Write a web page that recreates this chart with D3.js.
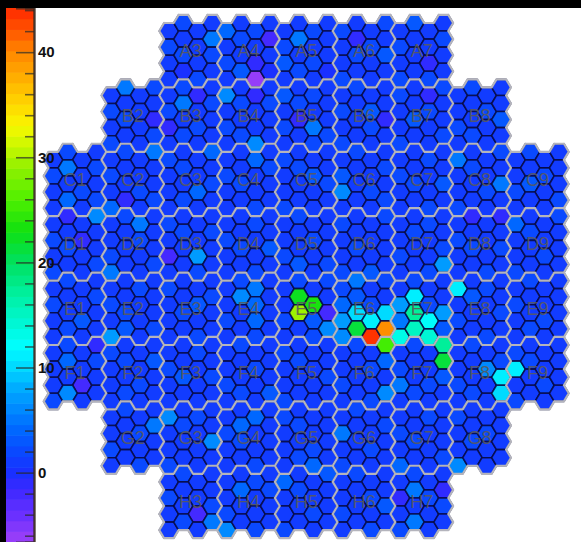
<!DOCTYPE html>
<html>
<head>
<meta charset="utf-8">
<script src="https://cdn.jsdelivr.net/npm/d3@7"></script>
<style>
  html, body { margin: 0; padding: 0; background: #fff; }
  svg { display: block; }
</style>
</head>
<body>
<svg id="chart" width="581" height="542"></svg>
<script>
// Module layout: row letters and the first/last module column in each row
const rowLetters = ["A", "B", "C", "D", "E", "F", "G", "H"];
const rowFirstCol = [3, 2, 1, 1, 1, 1, 2, 3];
const rowLastCol  = [7, 8, 9, 9, 9, 9, 8, 7];

// Cell amplitudes per module (4x4 hexagons, listed row by row, left to right)
const cellsA = [
  [1,2,1,1, 2,1,1,5, 1,2,1,2, 1,0,2,1],        // A3
  [4,1,2,1, 1,2,1,-2, 2,1,-1,1, 1,3,-6.5,0],   // A4
  [1,1,2,1, 2,5,1,1, 3,1,2,1, 1,2,1,0],        // A5
  [2,1,1,2, 1,-1,2,1, 1,2,1,3, 2,1,1,1],       // A6
  [1,3,1,1, 2,1,1,2, 1,1,-1,1, 2,1,2,1]        // A7
];
const cellsB = [
  [1,5,1,2, 2,1,1,1, 1,2,1,-1, 2,1,1,2],       // B2
  [1,2,-1.5,1, 2,5,1,2, -1,1,2,1, 1,2,1,1],    // B3
  [6,1,-1,1, 1,2,1,2, 2,1,1,1, 1,2,6,1],       // B4
  [3,1,2,1, 1,2,1,1, 2,-1,5,1, 1,1,2,2],       // B5
  [1,2,1,1, 2,1,3,1, 1,1,2,-1, 2,1,1,1],       // B6
  [2,1,-1,2, 1,1,2,1, 1,3,1,1, 2,1,1,2],       // B7
  [1,2,1,1, 1,1,2,1, 2,1,1,3, 1,2,1,1]         // B8
];
const cellsC = [
  [1,2,1,1, 2,5,1,2, 1,1,2,1, 1,4,1,2],        // C1
  [1,2,1,5, 2,1,1,1, 1,1,2,1, 4,-1,1,2],       // C2
  [2,1,1,4, 1,2,1,1, 1,1,4,2, 1,2,1,1],        // C3
  [1,1,4,1, 2,1,1,2, 1,2,1,1, 1,1,2,1],        // C4
  [2,1,1,1, 1,2,3,1, 1,1,1,2, 2,1,1,1],        // C5
  [1,2,1,1, 3,1,1,2, 6,1,2,1, 1,1,1,2],        // C6
  [1,1,2,1, 2,1,1,1, 1,2,1,3, 1,1,2,1],        // C7
  [5,1,1,2, 1,2,1,1, 1,1,2,5, 2,1,1,1],        // C8
  [1,2,1,1, 1,1,2,1, 2,3,1,1, 1,1,1,2]         // C9
];
const cellsD = [
  [1,-1,1,6, 2,1,-1,1, 1,2,1,1, 2,1,1,2],      // D1
  [1,2,5,1, 1,1,2,1, 2,1,1,1, 5,1,1,2],        // D2
  [2,1,1,1, 1,2,1,2, -2,1,7,1, 1,1,2,1],       // D3
  [1,1,2,1, 2,1,1,1, 1,2,1,3, 1,1,2,1],        // D4
  [1,2,1,1, 1,1,2,1, 2,1,1,1, 1,3,1,2],        // D5
  [2,1,1,2, 1,1,1,1, 1,2,1,1, 2,1,3,1],        // D6
  [1,1,2,1, 1,2,1,1, 2,1,1,2, 1,1,2,7],        // D7
  [1,-1,1,-1, 2,1,1,1, 1,2,1,2, 1,1,2,1],      // D8
  [4,1,1,2, 1,2,1,1, 1,1,2,1, 2,1,1,1]         // D9
];
const cellsE = [
  [1,2,1,1, 2,1,1,2, 1,1,3,1, 1,2,1,1],        // E1
  [1,1,2,1, 2,1,1,1, 1,2,1,1, 7,3,1,2],        // E2
  [2,1,1,1, 1,1,3,2, 1,2,1,1, 1,1,2,1],        // E3
  [1,2,5,1, 1,6,4,1, 2,1,4,1, 1,1,2,1],        // E4
  [1,2,1,2, 1,22,23,1, 2,29,3,-2, 1,1,2,6],    // E5
  [2,5,1,2, 4,3,2,1, 7,10,11,10, 6,21,44,40],  // E6
  [1,2,1,1, 7,11,2,1, 5,17,12,7, 13,15,14,3],  // E7
  [11,1,2,1, 1,3,1,1, 2,1,1,2, 1,1,2,1],       // E8
  [1,2,1,1, 2,1,1,1, 1,1,2,1, 1,2,1,1]         // E9
];
const cellsF = [
  [1,2,1,-1, 1,4,1,2, 1,1,-2,1, 2,6,1,1],      // F1
  [2,1,1,1, 1,2,1,3, 1,1,2,1, 1,2,1,1],        // F2
  [1,1,2,1, 2,1,1,1, 1,3,1,2, 1,1,1,1],        // F3
  [1,2,1,1, 1,1,2,1, 2,1,1,1, 1,2,1,3],        // F4
  [2,1,1,1, 1,2,1,1, 1,1,1,2, 2,1,1,1],        // F5
  [1,2,1,25, 1,1,2,4, 2,1,1,1, 1,1,2,6],       // F6
  [1,2,1,17, 2,1,1,21, 5,1,2,3, 1,2,1,1],      // F7
  [1,2,1,1, 1,1,6,2, 2,1,1,11, 1,2,1,10],      // F8
  [2,1,1,1, 11,2,1,1, 1,1,2,1, 2,1,1,1]        // F9
];
const cellsG = [
  [1,2,1,1, 1,1,2,5, 2,1,1,1, 1,1,2,1],        // G2
  [6,1,2,1, 1,2,1,1, 1,1,1,6, 2,1,1,1],        // G3
  [1,1,4,1, 2,4,1,1, 1,2,1,1, 1,1,2,1],        // G4
  [2,1,1,1, 1,2,1,1, 1,1,2,1, 1,2,4,1],        // G5
  [1,2,1,1, 5,1,1,2, 1,1,2,1, 2,1,1,1],        // G6
  [1,1,2,1, 2,1,1,1, 1,2,1,1, 4,1,1,2],        // G7
  [2,1,1,1, 1,1,2,1, 1,2,1,1, 6,1,1,1]         // G8
];
const cellsH = [
  [1,2,1,1, 2,1,1,1, 1,1,-2,2, 1,2,1,5],       // H3
  [1,1,2,1, 1,4,1,2, 2,1,1,1, 6,1,2,1],        // H4
  [4,1,1,3, 1,2,1,1, 1,1,2,1, 2,1,1,1],        // H5
  [1,2,1,1, 1,1,2,1, 2,1,1,3, 1,1,2,1],        // H6
  [1,2,1,1, -1,5,2,-1, 1,1,1,2, 2,5,1,1]       // H7
];
const moduleRows = [cellsA, cellsB, cellsC, cellsD, cellsE, cellsF, cellsG, cellsH];

// Colour axis
const zMin = -6.6, zMax = 44.2;
const nContours = 50;
const majorTicks = [0, 10, 20, 30, 40];
const minorTicks = [-6, -4, -2, 2, 4, 6, 8, 12, 14, 16, 18, 22, 24, 26, 28, 32, 34, 36, 38, 42, 44];

// Rainbow palette (value -> colour)
const paletteValues = [-6.6, -4, -1.5, 0, 2, 4, 6, 8, 10, 12, 14, 17, 20, 23, 26, 29, 31, 33, 35, 38, 40, 42, 44.2];
const paletteColors = ["#a040f8", "#6a30ff", "#3a28ff", "#1a30ff", "#0a48ff", "#0066ff", "#0088ff", "#00aaff",
  "#00d8ff", "#00ffff", "#00f8d8", "#00f0a0", "#00e060", "#10e010", "#50f000", "#90f000", "#c8f800",
  "#f8f800", "#ffd800", "#ffa800", "#ff8800", "#ff5800", "#ff2800"];

const gradient = d3.scaleLinear().domain(paletteValues).range(paletteColors)
  .interpolate(d3.interpolateRgb).clamp(true);
const bandWidth = (zMax - zMin) / nContours;
function bandIndex(v) {
  return Math.max(0, Math.min(nContours - 1, Math.floor((v - zMin) / bandWidth)));
}
function bandColor(v) {
  const b = bandIndex(v);
  return gradient(zMin + (b + 0.5) * bandWidth);
}

const svg = d3.select("#chart");
svg.append("rect").attr("width", 581).attr("height", 542).attr("fill", "#fff");

// ---- colour bar (bands) ----
const zScale = d3.scaleLinear().domain([zMin, zMax]).range([542, 8]);
const bar = svg.append("g");
d3.range(nContours).forEach(b => {
  const lo = zMin + b * bandWidth, hi = lo + bandWidth;
  bar.append("rect")
    .attr("x", 6).attr("width", 28)
    .attr("y", zScale(hi)).attr("height", zScale(lo) - zScale(hi) + 0.6)
    .attr("fill", gradient(lo + bandWidth / 2));
});

// ---- hexagon map ----
const xScale = d3.scaleLinear().domain([0, 35]).range([53.3, 559.1]);
const yScale = d3.scaleLinear().domain([0, 31]).range([23, 522.1]);
const R = (xScale(1) - xScale(0)) / 1.5;
const halfH = (yScale(1) - yScale(0)) / 2;

const cells = [];
const modules = [];
moduleRows.forEach((rowCells, r) => {
  rowCells.forEach((vals, k) => {
    const m = rowFirstCol[r] + k;
    modules.push({ name: rowLetters[r] + m, r, m });
    vals.forEach((v, idx) => {
      const rr = Math.floor(idx / 4), cc = idx % 4;
      cells.push({ j: 4 * (m - 1) + cc, i: 4 * r + rr, v, r, m });
    });
  });
});

function centerOf(j, i) {
  return [xScale(j), yScale(i + (j % 2 === 0 ? 0.5 : 0))];
}
const verts = [[R, 0], [R / 2, halfH], [-R / 2, halfH], [-R, 0], [-R / 2, -halfH], [R / 2, -halfH]];
function hexPath(d) {
  const [cx, cy] = centerOf(d.j, d.i);
  return "M" + verts.map(p => (cx + p[0]).toFixed(2) + "," + (cy + p[1]).toFixed(2)).join("L") + "Z";
}

svg.append("g").selectAll("path")
  .data(cells)
  .join("path")
  .attr("d", hexPath)
  .attr("fill", d => bandColor(d.v))
  .attr("stroke", "#070b45")
  .attr("stroke-opacity", 0.85)
  .attr("stroke-width", 1.6)
  .attr("stroke-linejoin", "round");

// module boundaries: hexagon edges whose neighbour lies in another module
function neighbours(j, i) {
  if (j % 2 === 0) {
    return [[j + 1, i + 1], [j, i + 1], [j - 1, i + 1], [j - 1, i], [j, i - 1], [j + 1, i]];
  }
  return [[j + 1, i], [j, i + 1], [j - 1, i], [j - 1, i - 1], [j, i - 1], [j + 1, i - 1]];
}
const modKey = (j, i) => Math.floor(j / 4) + ":" + Math.floor(i / 4);
let border = "";
cells.forEach(d => {
  const [cx, cy] = centerOf(d.j, d.i);
  const own = modKey(d.j, d.i);
  neighbours(d.j, d.i).forEach((nb, e) => {
    const inside = nb[1] >= 0 && nb[0] >= 0 && modKey(nb[0], nb[1]) === own;
    if (!inside) {
      const a = verts[e], b = verts[(e + 1) % 6];
      border += "M" + (cx + a[0]).toFixed(2) + "," + (cy + a[1]).toFixed(2) +
                "L" + (cx + b[0]).toFixed(2) + "," + (cy + b[1]).toFixed(2);
    }
  });
});
svg.append("path")
  .attr("d", border)
  .attr("fill", "none")
  .attr("stroke", "#b4b4bc")
  .attr("stroke-width", 2.2)
  .attr("stroke-linecap", "round");

// module labels at the centre of each module
svg.append("g").selectAll("text")
  .data(modules)
  .join("text")
  .attr("x", d => xScale(4 * (d.m - 1) + 1.5))
  .attr("y", d => yScale(4 * d.r + 1.5 + 0.25))
  .attr("text-anchor", "middle")
  .attr("dominant-baseline", "central")
  .attr("font-family", "'Liberation Sans', Arial, sans-serif")
  .attr("font-size", 18)
  .attr("fill", "#5a5a5a")
  .attr("fill-opacity", 0.9)
  .text(d => d.name);

// ---- colour bar axis, drawn over the map ----
const axisG = svg.append("g").attr("transform", "translate(34,0)");
axisG.call(d3.axisRight(zScale).tickValues(minorTicks).tickSize(-9).tickFormat(""));
const majorG = svg.append("g").attr("transform", "translate(34,0)");
majorG.call(d3.axisRight(zScale).tickValues(majorTicks).tickSize(-18).tickPadding(4).tickFormat(d3.format("d")));
[axisG, majorG].forEach(g => {
  g.select(".domain").attr("stroke", "#3a2a20").attr("stroke-width", 2).attr("stroke-opacity", 0.75);
  g.selectAll(".tick line").attr("stroke", "#2a2a2a").attr("stroke-width", 1.6).attr("stroke-opacity", 0.7);
});
majorG.selectAll(".tick text")
  .attr("fill", "#111")
  .attr("font-family", "'Liberation Sans', Arial, sans-serif")
  .attr("font-size", 15)
  .attr("font-weight", "bold");

// black frame strips
svg.append("rect").attr("x", 0).attr("y", 0).attr("width", 581).attr("height", 8).attr("fill", "#000");
svg.append("rect").attr("x", 0).attr("y", 0).attr("width", 6).attr("height", 542).attr("fill", "#000");
</script>
</body>
</html>
